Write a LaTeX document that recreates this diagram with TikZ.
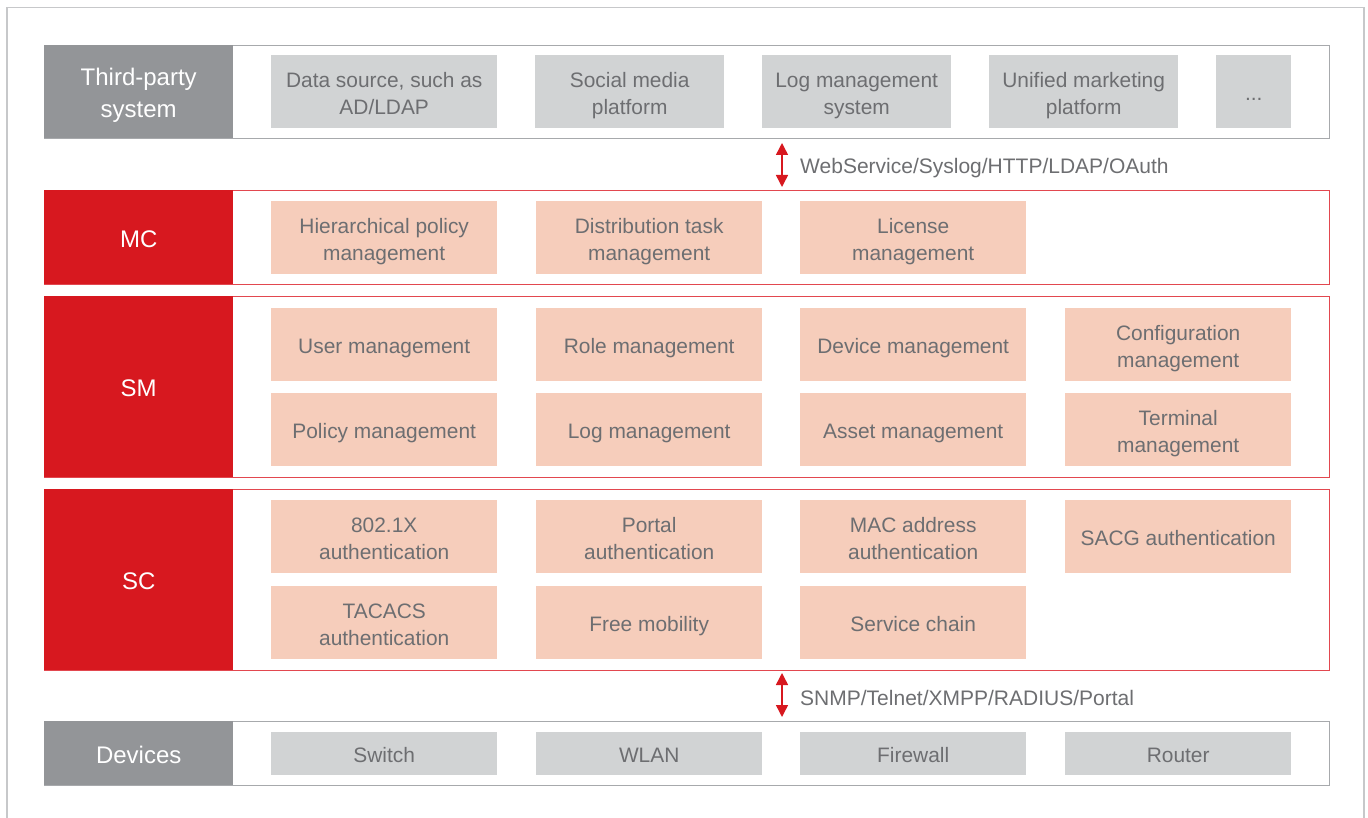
\documentclass[tikz,border=0pt]{standalone}
\usepackage{fontspec}
\setmainfont{Liberation Sans}
\usetikzlibrary{arrows.meta}

\definecolor{labgray}{HTML}{939598}
\definecolor{cellgray}{HTML}{D1D3D4}
\definecolor{cellpink}{HTML}{F6CDBB}
\definecolor{hwred}{HTML}{D7181F}
\definecolor{redline}{HTML}{E2474F}
\definecolor{frameline}{HTML}{A7A9AC}
\definecolor{txtgray}{HTML}{6D6E71}
\definecolor{outerline}{HTML}{C7C8CA}

% struts for the first and last line of a cell, so text sits optically centred
\newcommand\cs{\vrule height\dimexpr 0.7\baselineskip+7pt\relax depth 0.3\baselineskip width 0pt}
\newcommand\ce{\vrule height 0pt depth 0.3\baselineskip width 0pt}

\tikzset{
  cell/.style={anchor=north west, inner sep=0pt, align=center, text=txtgray,
    font=\fontsize{20.9}{27}\selectfont},
  graycell/.style={cell, fill=cellgray},
  pinkcell/.style={cell, fill=cellpink},
  wide/.style={minimum width=226pt, minimum height=73pt},
  mid/.style={minimum width=189pt, minimum height=73pt},
  flat/.style={minimum width=226pt, minimum height=43pt},
  layerframe/.style={anchor=north west, inner sep=0pt, minimum width=1285pt, line width=1.2pt},
  grayframe/.style={layerframe, draw=frameline},
  redframe/.style={layerframe, draw=redline},
  layerlab/.style={anchor=north west, inner sep=0pt, align=center, text=white,
    minimum width=189pt, font=\fontsize{24}{32}\selectfont},
  graylab/.style={layerlab, fill=labgray},
  redlab/.style={layerlab, fill=hwred},
  proto/.style={anchor=west, inner sep=0pt, text=txtgray, font=\fontsize{21}{27}\selectfont},
  biarrow/.style={draw=hwred, line width=1.5pt,
    {Triangle[length=12pt,width=12pt]}-{Triangle[length=12pt,width=12pt]}}
}

\begin{document}
\begin{tikzpicture}[x=1pt, y=-1pt]
\useasboundingbox (0,0) rectangle (1368,818);

% outer page frame
\draw[outerline, line width=1.5pt] (7,830) -- (7,7.5) -- (1364,7.5) -- (1364,830);

% ---------- Third-party system ----------
\node[grayframe, minimum height=93pt] (tpf) at (44,45) {};
\node[graylab, minimum height=93pt] (tpl) at (44,45) {\cs Third-party\\system\ce};
\node[graycell, wide] (tp1) at (271,55) {\cs Data source, such as\\AD/LDAP\ce};
\node[graycell, mid] (tp2) at (535,55) {\cs Social media\\platform\ce};
\node[graycell, mid] (tp3) at (762,55) {\cs Log management\\system\ce};
\node[graycell, mid] (tp4) at (989,55) {\cs Unified marketing\\platform\ce};
\node[graycell, minimum width=75pt, minimum height=73pt] (tp5) at (1216,55) {\cs...\ce};

% upper protocol link
\coordinate (u1) at (782,143);
\coordinate (u2) at (782,187);
\draw[biarrow] (u1) -- (u2);
\node[proto] (uproto) at (800,168) {WebService/Syslog/HTTP/LDAP/OAuth};

% ---------- MC ----------
\node[redframe, minimum height=94pt] (mcf) at (44,190) {};
\node[redlab, minimum height=94pt] (mcl) at (44,190) {\cs MC\ce};
\node[pinkcell, wide] (mc1) at (271,201) {\cs Hierarchical policy\\management\ce};
\node[pinkcell, wide] (mc2) at (536,201) {\cs Distribution task\\management\ce};
\node[pinkcell, wide] (mc3) at (800,201) {\cs License\\management\ce};

% ---------- SM ----------
\node[redframe, minimum height=181pt] (smf) at (44,296) {};
\node[redlab, minimum height=181pt] (sml) at (44,296) {\cs SM\ce};
\node[pinkcell, wide] (sm1) at (271,308) {\cs User management\ce};
\node[pinkcell, wide] (sm2) at (536,308) {\cs Role management\ce};
\node[pinkcell, wide] (sm3) at (800,308) {\cs Device management\ce};
\node[pinkcell, wide] (sm4) at (1065,308) {\cs Configuration\\management\ce};
\node[pinkcell, wide] (sm5) at (271,393) {\cs Policy management\ce};
\node[pinkcell, wide] (sm6) at (536,393) {\cs Log management\ce};
\node[pinkcell, wide] (sm7) at (800,393) {\cs Asset management\ce};
\node[pinkcell, wide] (sm8) at (1065,393) {\cs Terminal\\management\ce};

% ---------- SC ----------
\node[redframe, minimum height=181pt] (scf) at (44,489) {};
\node[redlab, minimum height=181pt] (scl) at (44,489) {\cs SC\ce};
\node[pinkcell, wide] (sc1) at (271,500) {\cs 802.1X\\authentication\ce};
\node[pinkcell, wide] (sc2) at (536,500) {\cs Portal\\authentication\ce};
\node[pinkcell, wide] (sc3) at (800,500) {\cs MAC address\\authentication\ce};
\node[pinkcell, wide] (sc4) at (1065,500) {\cs SACG authentication\ce};
\node[pinkcell, wide] (sc5) at (271,586) {\cs TACACS\\authentication\ce};
\node[pinkcell, wide] (sc6) at (536,586) {\cs Free mobility\ce};
\node[pinkcell, wide] (sc7) at (800,586) {\cs Service chain\ce};

% lower protocol link
\coordinate (d1) at (782,673);
\coordinate (d2) at (782,717);
\draw[biarrow] (d1) -- (d2);
\node[proto] (dproto) at (800,698) {SNMP/Telnet/XMPP/RADIUS/Portal};

% ---------- Devices ----------
\node[grayframe, minimum height=64pt] (dvf) at (44,721) {};
\node[graylab, minimum height=64pt] (dvl) at (44,721) {\cs Devices\ce};
\node[graycell, flat] (dv1) at (271,732) {\cs Switch\ce};
\node[graycell, flat] (dv2) at (536,732) {\cs WLAN\ce};
\node[graycell, flat] (dv3) at (800,732) {\cs Firewall\ce};
\node[graycell, flat] (dv4) at (1065,732) {\cs Router\ce};
\end{tikzpicture}
\end{document}
